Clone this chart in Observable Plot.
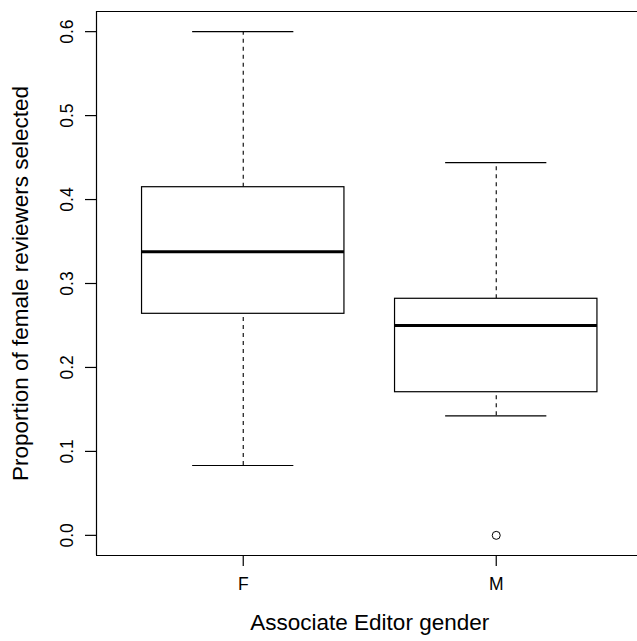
<!DOCTYPE html>
<html>
<head>
<meta charset="utf-8">
<script src="https://cdn.jsdelivr.net/npm/d3@7"></script>
<script src="https://cdn.jsdelivr.net/npm/@observablehq/plot@0.6"></script>
<style>
  html, body { margin: 0; padding: 0; background: #fff; }
  svg { display: block; }
</style>
</head>
<body>
<div id="chart"></div>
<script>
// Data
const categories = ["F", "M"];
const whiskerLow = [0.0832, 0.1424];
const q1 = [0.2639, 0.1705];
const median = [0.3378, 0.25];
const q3 = [0.4147, 0.2818];
const whiskerHigh = [0.6, 0.4441];
const outlierGroup = ["M"];
const outlierValue = [0];
const yTicks = [0, 0.1, 0.2, 0.3, 0.4, 0.5, 0.6];
const xLabel = "Associate Editor gender";
const yLabel = "Proportion of female reviewers selected";

const boxes = categories.map((c, i) => ({
  cat: c, pos: i + 1,
  lo: whiskerLow[i], q1: q1[i], med: median[i], q3: q3[i], hi: whiskerHigh[i]
}));
const outliers = outlierGroup.map((g, i) => ({pos: categories.indexOf(g) + 1, value: outlierValue[i]}));

const font = "Liberation Sans, Arial, Helvetica, sans-serif";
const xDomain = [0.42, 0.42 + 541 / 253];
const yDomain = [-0.024, 0.624];

const chart = Plot.plot({
  width: 637,
  height: 641,
  marginLeft: 96,
  marginRight: 0,
  marginTop: 11,
  marginBottom: 86,
  style: {fontFamily: font, background: "#fff", color: "#000", overflow: "visible"},
  x: {domain: xDomain, axis: null},
  y: {domain: yDomain, axis: null},
  marks: [
    // frame (left, top, bottom)
    Plot.ruleX([xDomain[0]], {stroke: "#000", strokeWidth: 1.2}),
    Plot.ruleY([yDomain[0], yDomain[1]], {stroke: "#000", strokeWidth: 1.2}),
    // whiskers (dashed)
    Plot.ruleX(boxes, {x: "pos", y1: "q3", y2: "hi", stroke: "#000", strokeWidth: 1.1, strokeDasharray: "4,4"}),
    Plot.ruleX(boxes, {x: "pos", y1: "lo", y2: "q1", stroke: "#000", strokeWidth: 1.1, strokeDasharray: "4,4"}),
    // staples
    Plot.ruleY(boxes, {y: "hi", x1: d => d.pos - 0.2, x2: d => d.pos + 0.2, stroke: "#000", strokeWidth: 1.2}),
    Plot.ruleY(boxes, {y: "lo", x1: d => d.pos - 0.2, x2: d => d.pos + 0.2, stroke: "#000", strokeWidth: 1.2}),
    // boxes
    Plot.rect(boxes, {x1: d => d.pos - 0.4, x2: d => d.pos + 0.4, y1: "q1", y2: "q3", fill: "#fff", stroke: "#000", strokeWidth: 1.2}),
    // medians
    Plot.ruleY(boxes, {y: "med", x1: d => d.pos - 0.4, x2: d => d.pos + 0.4, stroke: "#000", strokeWidth: 3.2}),
    // outliers
    Plot.dot(outliers, {x: "pos", y: "value", r: 4, stroke: "#000", fill: "none", strokeWidth: 1}),
    // y axis ticks and labels
    Plot.axisY(yTicks, {tickSize: 11, tickFormat: () => "", label: null, stroke: "#000", strokeWidth: 1.2}),
    Plot.text(yTicks, {y: d => d, frameAnchor: "left", textAnchor: "middle", dx: -29.5, rotate: -90, text: d => d.toFixed(1), fontSize: 17.5, fill: "#000"}),
    // x axis ticks and labels
    Plot.axisX(boxes.map(d => d.pos), {tickSize: 11, tickFormat: () => "", label: null, stroke: "#000", strokeWidth: 1.2}),
    Plot.text(boxes, {x: "pos", frameAnchor: "bottom", dy: 34.5, text: "cat", fontSize: 17.5, fill: "#000"}),
    // axis titles
    Plot.text([xLabel], {x: () => 1.5, text: d => d, frameAnchor: "bottom", dy: 74.5, fontSize: 22.5, fill: "#000"}),
    Plot.text([yLabel], {text: d => d, frameAnchor: "left", textAnchor: "middle", dx: -75.7, rotate: -90, fontSize: 22.5, fill: "#000"})
  ]
});
document.getElementById("chart").appendChild(chart);
</script>
</body>
</html>
